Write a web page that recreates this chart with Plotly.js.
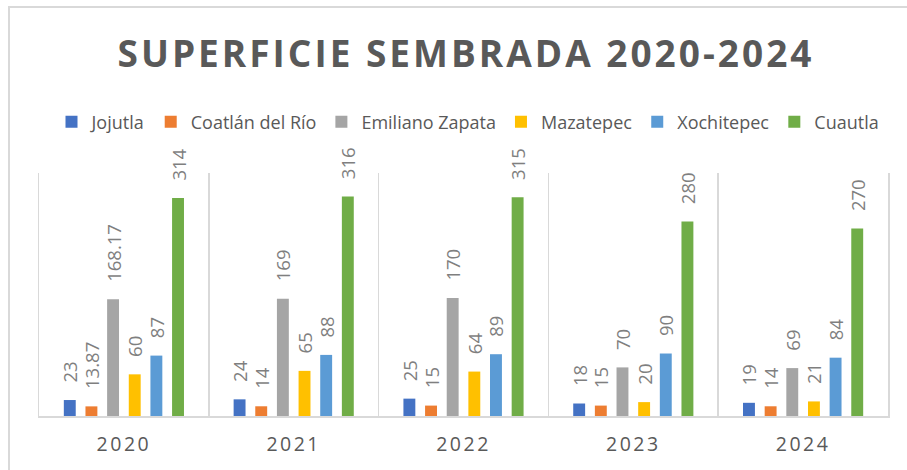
<!DOCTYPE html>
<html>
<head>
<meta charset="utf-8">
<script src="https://cdn.plot.ly/plotly-3.0.1.min.js"></script>
<style>
  html, body { margin: 0; padding: 0; background: #ffffff; }
  #wrap { position: relative; width: 907px; height: 470px; overflow: hidden; }
  #chart { width: 907px; height: 470px; }
  #frame { position: absolute; left: 8px; top: 6px; width: 1000px; height: 1000px;
           border-left: 2px solid #d9d9d9; border-top: 2px solid #d9d9d9; pointer-events: none; }
</style>
</head>
<body>
<div id="wrap">
  <div id="chart"></div>
  <div id="frame"></div>
</div>
<script>
const years = ['2020', '2021', '2022', '2023', '2024'];
const jojutla = [23, 24, 25, 18, 19];
const coatlan = [13.87, 14, 15, 15, 14];
const zapata = [168.17, 169, 170, 70, 69];
const mazatepec = [60, 65, 64, 20, 21];
const xochitepec = [87, 88, 89, 90, 84];
const cuautla = [314, 316, 315, 280, 270];

const seriesNames = ['Jojutla', 'Coatlán del Río', 'Emiliano Zapata', 'Mazatepec', 'Xochitepec', 'Cuautla'];
const seriesValues = [jojutla, coatlan, zapata, mazatepec, xochitepec, cuautla];
const seriesColors = ['#4472C4', '#ED7D31', '#A5A5A5', '#FFC000', '#5B9BD5', '#70AD47'];

const labelPad = '\u00A0\u00A0\u00A0';

const traces = seriesNames.map((name, i) => ({
  type: 'bar',
  name: name,
  x: years,
  y: seriesValues[i],
  text: seriesValues[i].map(v => labelPad + String(v)),
  textposition: 'outside',
  textangle: -90,
  constraintext: 'none',
  cliponaxis: false,
  textfont: { family: 'Open Sans, sans-serif', size: 18.5, color: '#7f7f7f' },
  marker: { color: seriesColors[i], line: { width: 0 } },
  hoverinfo: 'none'
}));

const layout = {
  width: 907,
  height: 470,
  margin: { l: 39, r: 19, t: 173, b: 54 },
  paper_bgcolor: '#ffffff',
  plot_bgcolor: '#ffffff',
  barmode: 'group',
  bargap: 0.235,
  bargroupgap: 0.45,
  title: {
    text: 'SUPERFICIE SEMBRADA 2020-2024',
    font: { family: 'Open Sans, sans-serif', size: 37, color: '#595959', weight: 'bold' },
    x: 466 / 907,
    xanchor: 'center',
    xref: 'container',
    yref: 'container',
    y: 1 - 54 / 470,
    yanchor: 'middle'
  },
  showlegend: true,
  legend: {
    orientation: 'h',
    xref: 'container',
    yref: 'container',
    x: 468 / 907,
    xanchor: 'center',
    y: 1 - 122 / 470,
    yanchor: 'middle',
    font: { family: 'Open Sans, sans-serif', size: 18, color: '#595959' },
    bgcolor: 'rgba(0,0,0,0)'
  },
  xaxis: {
    type: 'category',
    tickson: 'boundaries',
    showgrid: true,
    gridcolor: '#d9d9d9',
    gridwidth: 1.5,
    ticks: '',
    showline: true,
    linecolor: '#d9d9d9',
    linewidth: 2,
    ticklabelstandoff: 10,
    tickfont: { family: 'Open Sans, sans-serif', size: 19.5, color: '#595959' },
    fixedrange: true
  },
  yaxis: {
    range: [0, 350],
    showticklabels: false,
    showgrid: false,
    zeroline: false,
    showline: true,
    mirror: true,
    linecolor: '#d9d9d9',
    linewidth: 1.5,
    ticks: '',
    fixedrange: true
  }
};

Plotly.newPlot('chart', traces, layout, { displayModeBar: false, staticPlot: true }).then(() => {
  document.querySelectorAll('#chart .gtitle').forEach(el => { el.style.letterSpacing = '3px'; });
  document.querySelectorAll('#chart .xtick text').forEach(el => { el.style.letterSpacing = '2.5px'; });
});
</script>
</body>
</html>
